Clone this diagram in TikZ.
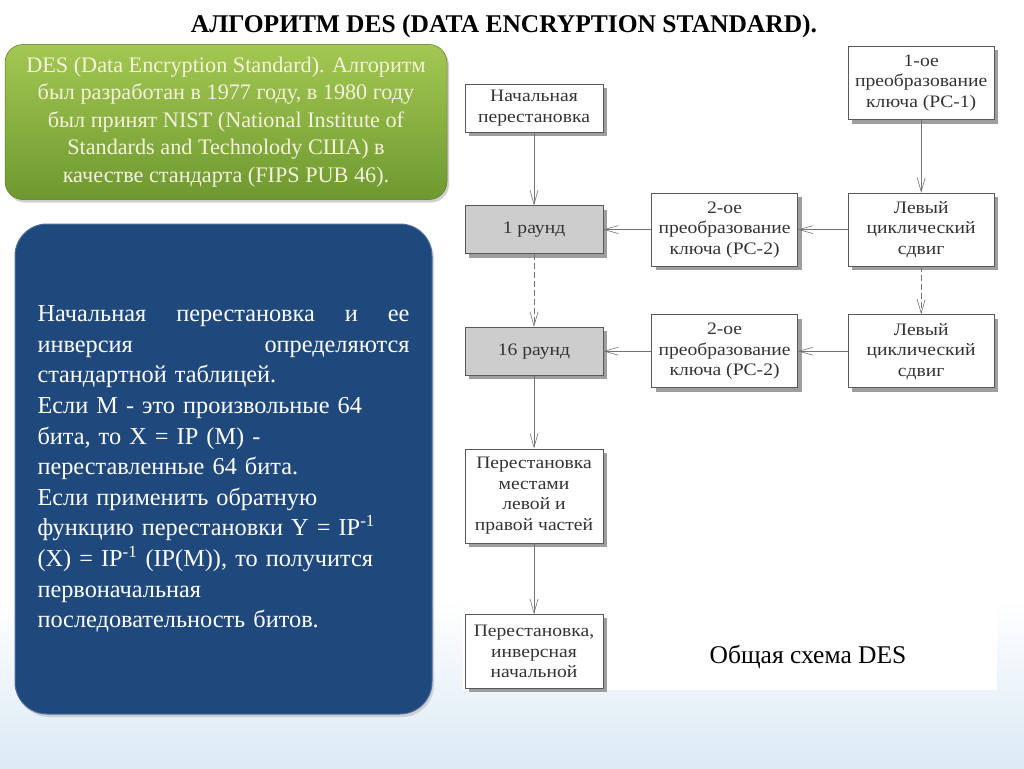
\documentclass[tikz,border=0pt]{standalone}
\usepackage{fontspec}
\setmainfont{Liberation Serif}
\newfontfamily\figfont[FakeStretch=1.12]{Liberation Serif}
\usepackage{xcolor}
\usetikzlibrary{arrows.meta,positioning,shadows}

\definecolor{introtop}{HTML}{A3C752}
\definecolor{introbot}{HTML}{6E9930}
\definecolor{introtext}{HTML}{F5F2DC}
\definecolor{noteblue}{HTML}{1F497D}
\definecolor{noteedge}{HTML}{4F6F9A}
\definecolor{roundgray}{HTML}{CDCDCD}
\definecolor{boxtext}{HTML}{333333}
\definecolor{bgblue}{HTML}{DCEAF5}

\begin{document}
\begin{tikzpicture}[x=1pt,y=-1pt,
  node distance=73pt and 49pt,
  every node/.style={align=center},
  blk/.style={draw=black!65,fill=white,line width=0.6pt,inner sep=2pt,
    text=boxtext,font=\figfont\fontsize{17.5}{20.5}\selectfont,
    drop shadow={shadow xshift=4pt,shadow yshift=-4pt,fill=black!38,opacity=1}},
  colbox/.style={minimum width=138pt,minimum height=48pt},
  keybox/.style={minimum width=146pt,minimum height=73pt},
  arr/.style={-{Straight Barb[length=14pt,width=8pt]},black!55,line width=0.6pt},
  gap/.style={dash pattern=on 6pt off 3pt}
]
% background
\useasboundingbox (0,0) rectangle (1024,768);
\fill[white] (0,0) rectangle (1024,768);
\shade[top color=white,bottom color=bgblue] (0,600) rectangle (1024,768);
\fill[white] (463,40) rectangle (997,690);

% title
\node[font=\bfseries\fontsize{25.5}{28}\selectfont] (head) at (504,26)
  {АЛГОРИТМ DES (DATA ENCRYPTION STANDARD).};

% green box
\node[rounded corners=18pt,minimum width=442pt,minimum height=155pt,
  top color=introtop,bottom color=introbot,draw=introbot!80!black,line width=0.5pt,
  drop shadow={shadow xshift=2pt,shadow yshift=-3pt,fill=black!30,opacity=0.6},
  text=introtext,font=\fontsize{22.2}{27.5}\selectfont] (intro) at (226,122)
  {DES (Data Encryption Standard). Алгоритм\\
   был разработан в 1977 году, в 1980 году\\
   был принят NIST (National Institute of\\
   Standards and Technolody США) в\\
   качестве стандарта (FIPS PUB 46).};

% blue box
\node[rounded corners=32pt,minimum width=417pt,minimum height=490pt,
  fill=noteblue,draw=noteedge,line width=1pt,
  drop shadow={shadow xshift=2pt,shadow yshift=-3pt,fill=black!30,opacity=0.5},
  text=white,text width=372pt,align=left,
  font=\fontsize{24.3}{30.6}\selectfont] (note) at (223.5,469)
  {Начальная\hfill перестановка\hfill и\hfill ее\\
   инверсия\hfill определяются\\
   стандартной таблицей.\\
   Если M - это произвольные 64\\
   бита, то X = IP (M) -\\
   переставленные 64 бита.\\
   Если применить обратную\\
   функцию перестановки Y = IP\textsuperscript{-1}\\
   (X) = IP\textsuperscript{-1} (IP(M)), то получится\\
   первоначальная\\
   последовательность битов.};

% scheme
\node[blk,colbox] (ip) at (534,108) {Начальная\\перестановка};
\node[blk,colbox,fill=roundgray,below=of ip] (r1) {1 раунд};
\node[blk,colbox,fill=roundgray,below=of r1] (r16) {16 раунд};
\node[blk,colbox,minimum height=94pt,below=of r16] (swap)
  {Перестановка\\местами\\левой и\\правой частей};
\node[blk,colbox,minimum height=74pt,below=71pt of swap] (fp)
  {Перестановка,\\инверсная\\начальной};

\node[blk,keybox,right=48pt of r1] (pc2a) {2-ое\\преобразование\\ключа (PC-2)};
\node[blk,keybox,right=50pt of pc2a] (lcs1) {Левый\\циклический\\сдвиг};
\node[blk,keybox,above=73pt of lcs1] (pc1) {1-ое\\преобразование\\ключа (PC-1)};
\node[blk,keybox,below=48pt of lcs1] (lcs2) {Левый\\циклический\\сдвиг};
\node[blk,keybox,left=50pt of lcs2] (pc2b) {2-ое\\преобразование\\ключа (PC-2)};

\draw[arr] (ip) -- (r1);
\draw[arr] (pc1) -- (lcs1);
\draw[arr] (lcs1) -- (pc2a);
\draw[arr] (pc2a) -- (r1);
\draw[arr,gap] (r1) -- (r16);
\draw[arr,gap] (lcs1) -- (lcs2);
\draw[arr] (lcs2) -- (pc2b);
\draw[arr] (pc2b) -- (r16);
\draw[arr] (r16) -- (swap);
\draw[arr] (swap) -- (fp);

\node[font=\fontsize{25.5}{28}\selectfont] (caption) at (808,657) {Общая схема DES};
\end{tikzpicture}
\end{document}
